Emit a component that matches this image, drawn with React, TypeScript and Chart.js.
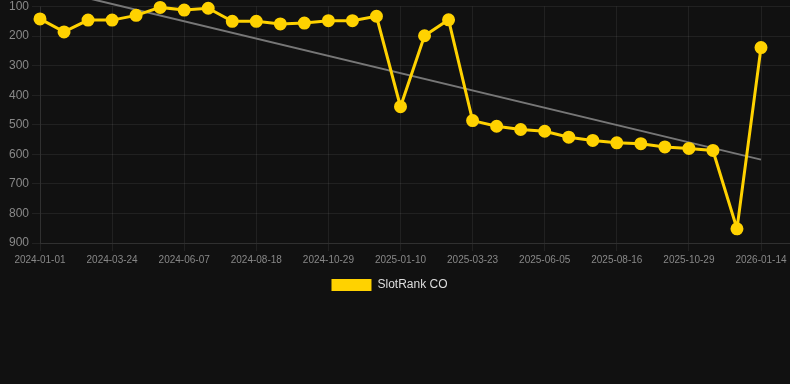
import React, { useEffect, useRef } from "react";
import { Chart, registerables } from "chart.js";

Chart.register(...registerables);

const dates: string[] = [
  "2024-01-01", "2024-01-29", "2024-02-25", "2024-03-24", "2024-04-18", "2024-05-13",
  "2024-06-07", "2024-07-01", "2024-07-25", "2024-08-18", "2024-09-11", "2024-10-05",
  "2024-10-29", "2024-11-22", "2024-12-16", "2025-01-10", "2025-02-03", "2025-02-27",
  "2025-03-23", "2025-04-17", "2025-05-11", "2025-06-05", "2025-06-29", "2025-07-23",
  "2025-08-16", "2025-09-09", "2025-10-04", "2025-10-29", "2025-11-24", "2025-12-19",
  "2026-01-14",
];

const ranks: number[] = [
  142, 186, 146, 146, 130, 103, 112, 106, 150, 150, 159, 156, 148, 148, 133, 439,
  199, 145, 486, 505, 516, 522, 542, 553, 561, 564, 575, 580, 587, 852, 239,
];

const trendStart = 33;
const trendEnd = 618;

const yTicks: number[] = [100, 200, 300, 400, 500, 600, 700, 800, 900];
const seriesLabel = "SlotRank CO";

export default function App() {
  const ref = useRef<HTMLCanvasElement | null>(null);

  useEffect(() => {
    document.body.style.margin = "0";
    document.body.style.background = "#111111";
    Chart.defaults.font.family = "Arial, 'Liberation Sans', Helvetica, sans-serif";
    const ctx = ref.current!;
    const last = dates.length - 1;
    const chart = new Chart(ctx, {
      type: "line",
      data: {
        datasets: [
          {
            label: seriesLabel,
            data: ranks.map((v, i) => ({ x: i, y: v })),
            borderColor: "#FFD200",
            backgroundColor: "#FFD200",
            borderWidth: 3,
            pointRadius: 5,
            pointBackgroundColor: "#FFD200",
            pointBorderColor: "#FFD200",
            tension: 0,
            clip: false,
          },
          {
            label: "trend",
            data: [
              { x: 0, y: trendStart },
              { x: last, y: trendEnd },
            ],
            borderColor: "#777777",
            borderWidth: 2,
            pointRadius: 0,
            tension: 0,
            clip: false,
          },
        ],
      },
      options: {
        animation: false,
        responsive: true,
        maintainAspectRatio: false,
        layout: { autoPadding: false, padding: { left: -11, right: 0, top: 6.5, bottom: 0 } },
        scales: {
          x: {
            type: "linear",
            min: 0,
            max: (last * 750) / 721,
            afterBuildTicks: (scale: any) => {
              scale.ticks = dates
                .map((_, i) => i)
                .filter((i) => i % 3 === 0)
                .map((i) => ({ value: i }));
            },
            afterFit: (scale: any) => {
              scale.paddingLeft = 0;
              scale.paddingRight = 0;
            },
            ticks: {
              color: "#888888",
              font: { size: 10 },
              maxRotation: 0,
              autoSkip: false,
              callback: (v: any) => dates[Math.round(Number(v))] ?? "",
            },
            grid: { color: "rgba(255,255,255,0.07)" },
            border: { color: "rgba(255,255,255,0.07)" },
          },
          y: {
            reverse: true,
            min: 100,
            max: 900,
            afterBuildTicks: (scale: any) => {
              scale.ticks = yTicks.map((v) => ({ value: v }));
            },
            afterFit: (scale: any) => {
              scale.width = 51;
              scale.paddingTop = 0;
              scale.paddingBottom = 0;
            },
            ticks: {
              color: "#888888",
              font: { size: 12 },
            },
            grid: { color: "rgba(255,255,255,0.07)" },
            border: { color: "rgba(255,255,255,0.07)" },
          },
        },
        plugins: {
          legend: {
            position: "bottom",
            labels: {
              color: "#dddddd",
              font: { size: 12 },
              boxWidth: 40,
              boxHeight: 12,
              generateLabels: (c: any) =>
                (Chart.defaults.plugins.legend.labels as any)
                  .generateLabels(c)
                  .filter((item: any) => item.datasetIndex === 0)
                  .map((item: any) => ({ ...item, lineWidth: 0 })),
            },
          },
          tooltip: { enabled: false },
        },
      },
    });
    return () => chart.destroy();
  }, []);

  return (
    <div
      style={{
        position: "fixed",
        left: 0,
        top: 0,
        width: 790,
        height: 384,
        background: "#111111",
        overflow: "hidden",
      }}
    >
      <div style={{ position: "absolute", left: 0, top: 0, width: 790, height: 301 }}>
        <canvas ref={ref} />
      </div>
    </div>
  );
}
